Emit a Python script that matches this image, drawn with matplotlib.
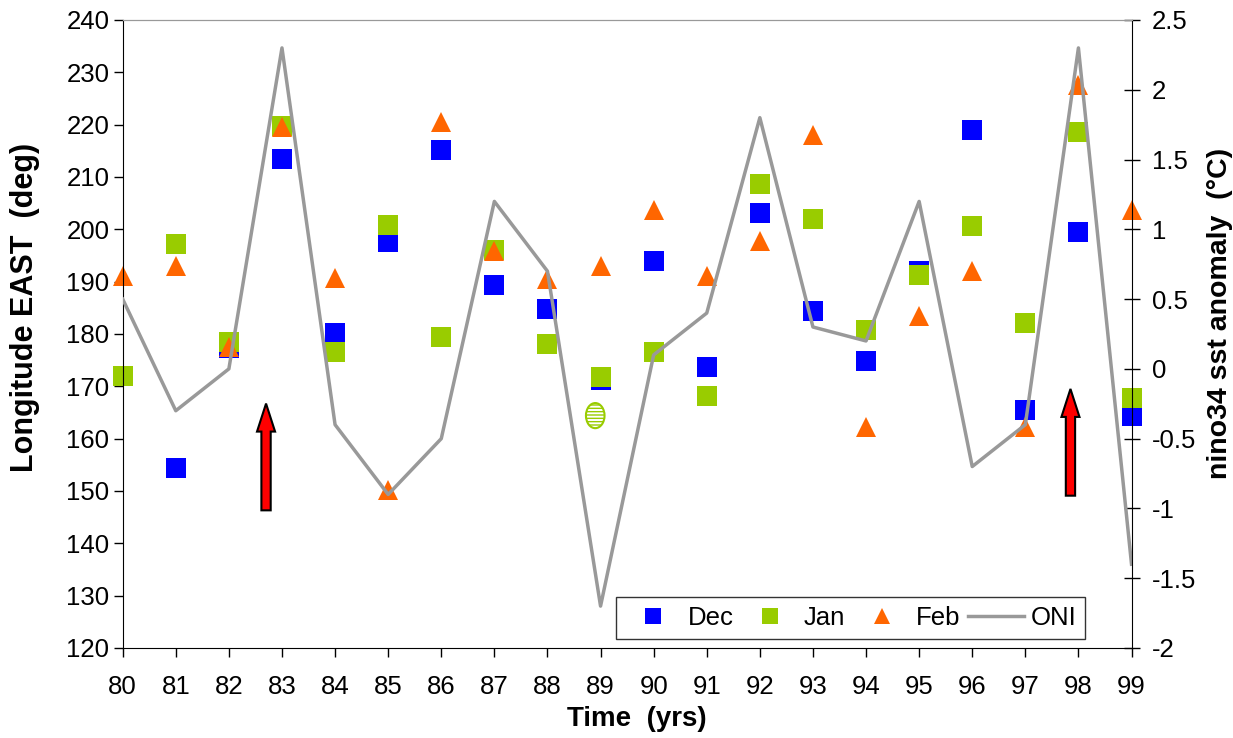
#import library
import numpy as np
import matplotlib
matplotlib.use("Agg")
import matplotlib.pyplot as plt
from matplotlib.patches import Ellipse, FancyArrow

plt.rcParams["font.family"] = ["Liberation Sans", "DejaVu Sans"]

#define datasets
years = list(range(80, 100))
year_labels = [str(y) for y in years]

dec = [np.nan, 154.4, 177.4, 213.5, 180.2, 197.5, 215.2, 189.4, 184.7, 171.3,
       193.9, 173.6, 203.1, 184.3, 174.8, 192.0, 218.9, 165.5, 199.4, 164.4]

jan = [172.0, 197.2, 178.4, 219.7, 176.6, 200.9, 179.4, 196.1, 178.0, 171.7,
       176.6, 168.1, 208.7, 202.0, 180.7, 191.3, 200.6, 182.1, 218.6, 167.8]

feb = [191.1, 192.9, 177.5, 219.6, 190.7, 150.2, 220.6, 195.8, 190.5, 192.9,
       203.7, 191.1, 197.7, 218.1, 162.2, 183.4, 192.1, 162.3, 227.5, 203.6]

oni = [0.5, -0.3, 0.0, 2.3, -0.4, -0.9, -0.5, 1.2, 0.7, -1.7,
       0.1, 0.4, 1.8, 0.3, 0.2, 1.2, -0.7, -0.4, 2.3, -1.4]

left_ticks = list(range(120, 241, 10))
right_ticks = [-2, -1.5, -1, -0.5, 0, 0.5, 1, 1.5, 2, 2.5]
right_labels = ["-2", "-1.5", "-1", "-0.5", "0", "0.5", "1", "1.5", "2", "2.5"]

#define fig and plot size
fig = plt.figure(figsize=(12.33, 7.38), dpi=100)
ax1 = fig.add_axes([0.0995, 0.122, 0.8182, 0.8509])

#define scatter plots
ax1.plot(years, dec, linestyle="none", marker="s", markersize=13.7,
         color="#0000FF", markeredgewidth=0, clip_on=False, label="Dec")
ax1.plot(years, jan, linestyle="none", marker="s", markersize=13.7,
         color="#99CC00", markeredgewidth=0, clip_on=False, label="Jan")
ax1.plot(years, feb, linestyle="none", marker="^", markersize=14.5,
         color="#FF6600", markeredgewidth=0, clip_on=False, label="Feb")

#hatched circle
ax1.add_patch(Ellipse((88.9, 164.4), 0.35, 4.8, facecolor="white",
                      edgecolor="#99CC00", hatch="-----", linewidth=1.5))

#red arrows
for ax_x, y0, y1 in [(82.7, 146.3, 166.7), (97.85, 149.1, 169.5)]:
    ax1.add_patch(FancyArrow(ax_x, y0, 0, y1 - y0, width=0.175,
                             head_width=0.34, head_length=5.35,
                             length_includes_head=True, facecolor="red",
                             edgecolor="black", linewidth=1.5, zorder=4))

#define primary axis
ax1.set_xlim(80, 99)
ax1.set_ylim(120, 240)
ax1.set_xticks(years)
ax1.set_xticklabels(year_labels)
ax1.set_yticks(left_ticks)
ax1.tick_params(axis="both", direction="out", length=6.5, width=1,
                labelsize=18.5, color="black")
ax1.tick_params(axis="x", pad=13)
ax1.tick_params(axis="y", pad=3)
ax1.set_xlabel("Time  (yrs)", fontsize=20, fontweight="bold")
ax1.xaxis.set_label_coords(0.51, -0.092)
ax1.set_ylabel("Longitude EAST  (deg)", fontsize=22, fontweight="bold")
ax1.yaxis.set_label_coords(-0.082, 0.543)
ax1.spines["top"].set_color("#999999")
ax1.spines["right"].set_visible(False)

#define secondary axis
ax2 = ax1.twinx()
ax2.plot(years, oni, color="#999999", linewidth=2.5, label="ONI")
ax2.set_ylim(-2, 2.5)
ax2.set_yticks(right_ticks)
ax2.set_yticklabels(right_labels)
ax2.tick_params(axis="y", direction="inout", length=11, width=1,
                labelsize=18.5, pad=9)
ax2.set_ylabel("nino34 sst anomaly  (°C)", fontsize=20.5, fontweight="bold")
ax2.yaxis.set_label_coords(1.075, 0.533)
ax2.spines["top"].set_color("#999999")
ax2.spines["left"].set_visible(False)
ax2.spines["bottom"].set_visible(False)

#legend
h1, l1 = ax1.get_legend_handles_labels()
h2, l2 = ax2.get_legend_handles_labels()
leg = ax2.legend(h1 + h2, l1 + l2, ncol=4, loc="lower right",
                 bbox_to_anchor=(0.954, 0.0143), borderaxespad=0,
                 fontsize=18.5, frameon=True, fancybox=False,
                 edgecolor="black", markerscale=0.8, handlelength=2.18,
                 handletextpad=0.23, columnspacing=0.33, borderpad=0.35)
leg.get_frame().set_linewidth(1)

plt.savefig("out.png", dpi=100)
